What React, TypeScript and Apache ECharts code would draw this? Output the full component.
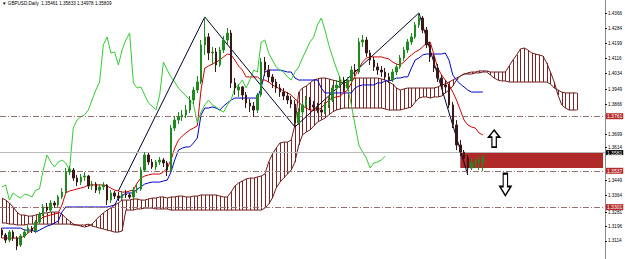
import React, { useEffect, useRef } from "react";
import * as echarts from "echarts";

const titleText = "▼ GBPUSD,Daily  1.35461 1.35833 1.34978 1.35809";
const slotCount = 161;
const categories = Array.from({ length: slotCount }, (_, i) => String(i));
// price-scale labels (text) and where they sit on the scale
const priceTickText = ["1.4366", "1.4284", "1.4199", "1.4116", "1.4034", "1.3949", "1.3866", "1.3699", "1.3614", "1.3449", "1.3364", "1.3281", "1.3196", "1.3114"];
const priceTickPos = [1.4366, 1.4284, 1.4199, 1.4116, 1.4034, 1.3949, 1.3866, 1.3699, 1.3628, 1.3449, 1.3364, 1.3272, 1.3196, 1.3114];

// [open, close, low, high]
const candles = [
[1.3174,1.3147,1.3130,1.3185],[1.3147,1.3119,1.3103,1.3158],[1.3119,1.3163,1.3108,1.3174],[1.3163,1.3130,1.3114,1.3174],[1.3130,1.3086,1.3064,1.3141],
[1.3092,1.3141,1.3081,1.3152],[1.3141,1.3163,1.3130,1.3180],[1.3163,1.3185,1.3152,1.3202],[1.3185,1.3169,1.3158,1.3196],[1.3169,1.3218,1.3158,1.3229],
[1.3218,1.3262,1.3207,1.3273],[1.3262,1.3301,1.3251,1.3317],[1.3301,1.3284,1.3273,1.3323],[1.3284,1.3323,1.3273,1.3339],[1.3323,1.3312,1.3295,1.3334],
[1.3312,1.3356,1.3301,1.3367],[1.3356,1.3383,1.3345,1.3405],[1.3383,1.3493,1.3372,1.3515],[1.3493,1.3510,1.3477,1.3526],[1.3504,1.3460,1.3444,1.3515],
[1.3460,1.3438,1.3416,1.3477],[1.3438,1.3466,1.3422,1.3482],[1.3466,1.3471,1.3444,1.3493],[1.3471,1.3416,1.3400,1.3477],[1.3416,1.3427,1.3394,1.3444],
[1.3427,1.3394,1.3378,1.3438],[1.3394,1.3411,1.3372,1.3427],[1.3411,1.3422,1.3394,1.3438],[1.3422,1.3339,1.3312,1.3427],[1.3339,1.3378,1.3323,1.3394],
[1.3378,1.3361,1.3345,1.3389],[1.3361,1.3350,1.3334,1.3383],[1.3350,1.3372,1.3339,1.3389],[1.3372,1.3367,1.3350,1.3394],[1.3367,1.3356,1.3345,1.3378],
[1.3356,1.3394,1.3345,1.3411],[1.3394,1.3400,1.3378,1.3427],[1.3400,1.3504,1.3389,1.3521],[1.3504,1.3587,1.3493,1.3603],[1.3587,1.3548,1.3532,1.3598],
[1.3548,1.3521,1.3510,1.3565],[1.3521,1.3548,1.3504,1.3559],[1.3548,1.3559,1.3532,1.3576],[1.3559,1.3543,1.3521,1.3570],[1.3543,1.3504,1.3471,1.3554],
[1.3504,1.3735,1.3493,1.3752],[1.3735,1.3779,1.3719,1.3801],[1.3779,1.3796,1.3757,1.3823],[1.3796,1.3807,1.3774,1.3834],[1.3807,1.3834,1.3790,1.3862],
[1.3834,1.3889,1.3818,1.3911],[1.3889,1.3944,1.3867,1.3961],[1.3944,1.3988,1.3928,1.4021],[1.3988,1.4192,1.3977,1.4219],[1.4192,1.4236,1.4137,1.4346],
[1.4236,1.4148,1.4109,1.4257],[1.4148,1.4153,1.4082,1.4181],[1.4153,1.4082,1.4043,1.4175],[1.4082,1.4164,1.4071,1.4181],[1.4164,1.4219,1.4148,1.4241],
[1.4219,1.4257,1.4197,1.4285],[1.4257,1.3983,1.3955,1.4274],[1.3983,1.3955,1.3917,1.4010],[1.3944,1.3961,1.3906,1.3977],[1.3961,1.3917,1.3889,1.3966],
[1.3917,1.3873,1.3845,1.3933],[1.3873,1.3856,1.3823,1.3895],[1.3856,1.3834,1.3796,1.3878],[1.3834,1.3917,1.3818,1.3928],[1.3917,1.4098,1.3906,1.4120],
[1.4098,1.4054,1.4021,1.4126],[1.4054,1.4016,1.3988,1.4082],[1.4016,1.3988,1.3955,1.4032],[1.3988,1.3955,1.3928,1.4005],[1.3955,1.3933,1.3906,1.3977],
[1.3933,1.3911,1.3889,1.3955],[1.3911,1.3889,1.3867,1.3933],[1.3889,1.3867,1.3845,1.3911],[1.3867,1.3763,1.3741,1.3889],[1.3763,1.3823,1.3752,1.3845],
[1.3823,1.3862,1.3801,1.3878],[1.3862,1.3889,1.3845,1.3911],[1.3889,1.3862,1.3834,1.3906],[1.3862,1.3851,1.3829,1.3884],[1.3851,1.3834,1.3818,1.3873],
[1.3834,1.3823,1.3801,1.3856],[1.3823,1.3862,1.3812,1.3878],[1.3862,1.3889,1.3845,1.3911],[1.3889,1.3955,1.3878,1.3972],[1.3955,1.3972,1.3939,1.3999],
[1.3972,1.3999,1.3955,1.4021],[1.3999,1.3955,1.3933,1.4016],[1.3955,1.3999,1.3944,1.4016],[1.3999,1.4054,1.3983,1.4076],[1.4054,1.4043,1.4021,1.4087],
[1.4043,1.4208,1.4032,1.4230],[1.4208,1.4219,1.4181,1.4247],[1.4219,1.4148,1.4126,1.4236],[1.4148,1.4109,1.4082,1.4164],[1.4109,1.4071,1.4049,1.4126],
[1.4071,1.4054,1.4027,1.4093],[1.4054,1.4043,1.4016,1.4076],[1.4043,1.4016,1.3999,1.4065],[1.4016,1.3999,1.3983,1.4038],[1.3999,1.4043,1.3988,1.4060],
[1.4043,1.4071,1.4027,1.4087],[1.4071,1.4120,1.4060,1.4137],[1.4120,1.4164,1.4104,1.4181],[1.4164,1.4208,1.4148,1.4225],[1.4208,1.4236,1.4192,1.4257],
[1.4236,1.4302,1.4225,1.4318],[1.4302,1.4340,1.4285,1.4368],[1.4340,1.4274,1.4257,1.4351],[1.4274,1.4192,1.4175,1.4291],[1.4192,1.4126,1.4098,1.4208],
[1.4126,1.4065,1.4043,1.4137],[1.4065,1.4010,1.3988,1.4087],[1.4010,1.3972,1.3950,1.4027],[1.3972,1.3961,1.3928,1.3999],[1.3961,1.3862,1.3845,1.3977],
[1.3862,1.3752,1.3735,1.3878],[1.3752,1.3642,1.3614,1.3779],[1.3642,1.3603,1.3581,1.3669],[1.3603,1.3570,1.3548,1.3614],[1.3570,1.3515,1.3477,1.3587],
[1.3515,1.3543,1.3504,1.3570],[1.3543,1.3548,1.3515,1.3565],[1.3548,1.3559,1.3504,1.3581],[1.35461,1.35809,1.34978,1.35833]
];

const tenkan = [
1.3130,1.3130,1.3130,1.3130,1.3130,1.3130,1.3141,1.3158,1.3174,1.3202,
1.3229,1.3246,1.3251,1.3257,1.3262,1.3268,1.3312,1.3378,1.3389,1.3394,
1.3400,1.3405,1.3411,1.3422,1.3422,1.3422,1.3422,1.3422,1.3416,1.3405,
1.3394,1.3389,1.3383,1.3383,1.3389,1.3394,1.3433,1.3460,1.3471,1.3477,
1.3482,1.3482,1.3482,1.3493,1.3515,1.3559,1.3625,1.3669,1.3691,1.3708,
1.3724,1.3735,1.3746,1.3944,1.4065,1.4076,1.4087,1.4098,1.4109,1.4126,
1.4142,1.4137,1.4109,1.4076,1.4054,1.4016,1.4016,1.4016,1.4016,1.3999,
1.3999,1.3988,1.3972,1.3961,1.3950,1.3939,1.3928,1.3917,1.3895,1.3878,
1.3856,1.3845,1.3834,1.3834,1.3834,1.3845,1.3867,1.3889,1.3900,1.3906,
1.3911,1.3928,1.3944,1.3983,1.4021,1.4065,1.4098,1.4120,1.4126,1.4126,
1.4126,1.4126,1.4120,1.4115,1.4098,1.4087,1.4082,1.4098,1.4120,1.4137,
1.4153,1.4164,1.4181,1.4203,1.4208,1.4137,1.4065,1.4027,1.3999,1.3972,
1.3933,1.3889,1.3834,1.3779,1.3752,1.3741,1.3735,1.3708,1.3697
];

const kijun = [
1.3185,1.3185,1.3185,1.3185,1.3185,1.3185,1.3174,1.3174,1.3174,1.3163,
1.3174,1.3185,1.3196,1.3202,1.3213,1.3224,1.3273,1.3301,1.3301,1.3301,
1.3301,1.3301,1.3301,1.3301,1.3301,1.3301,1.3301,1.3301,1.3301,1.3306,
1.3312,1.3350,1.3361,1.3378,1.3378,1.3378,1.3400,1.3411,1.3427,1.3433,
1.3438,1.3438,1.3438,1.3444,1.3449,1.3493,1.3559,1.3614,1.3625,1.3631,
1.3631,1.3653,1.3680,1.3807,1.3845,1.3845,1.3851,1.3845,1.3834,1.3856,
1.3873,1.3889,1.3900,1.3900,1.3900,1.3900,1.3900,1.3900,1.3900,1.3955,
1.4043,1.4054,1.4054,1.4054,1.4054,1.4049,1.4043,1.4043,1.4010,1.3999,
1.3999,1.3999,1.3999,1.3999,1.3999,1.3955,1.3928,1.3928,1.3928,1.3928,
1.3928,1.3928,1.3928,1.3928,1.3955,1.3966,1.3972,1.3972,1.3972,1.3972,
1.3983,1.3983,1.3994,1.3994,1.3999,1.4010,1.4010,1.4016,1.4016,1.4065,
1.4109,1.4120,1.4137,1.4142,1.4142,1.4142,1.4142,1.4142,1.4148,1.4109,
1.4027,1.3999,1.3977,1.3961,1.3944,1.3933,1.3933,1.3933,1.3933
];

const spanA = [
1.3350,1.3339,1.3323,1.3301,1.3273,1.3257,1.3257,1.3251,1.3251,1.3257,
1.3262,1.3268,1.3268,1.3273,1.3273,1.3273,1.3262,1.3240,1.3224,1.3207,
1.3202,1.3196,1.3191,1.3196,1.3207,1.3229,1.3251,1.3268,1.3284,1.3295,
1.3312,1.3323,1.3339,1.3339,1.3339,1.3345,1.3345,1.3339,1.3339,1.3345,
1.3350,1.3350,1.3356,1.3356,1.3350,1.3356,1.3356,1.3361,1.3361,1.3356,
1.3356,1.3361,1.3361,1.3367,1.3367,1.3367,1.3367,1.3367,1.3361,1.3356,
1.3356,1.3383,1.3416,1.3433,1.3444,1.3455,1.3460,1.3460,1.3466,1.3471,
1.3482,1.3548,1.3592,1.3625,1.3653,1.3658,1.3658,1.3669,1.3752,1.3933,
1.3955,1.3966,1.3983,1.3999,1.4005,1.4010,1.4010,1.4005,1.3999,1.3994,
1.3988,1.3983,1.3988,1.3999,1.4010,1.4010,1.4010,1.4010,1.4010,1.4010,
1.4010,1.4005,1.3999,1.3988,1.3977,1.3955,1.3944,1.3950,1.3955,1.3955,
1.3955,1.3955,1.3955,1.3955,1.3955,1.3955,1.3961,1.3972,1.3977,1.3988,
1.3999,1.4010,1.4021,1.4032,1.4038,1.4043,1.4043,1.4049,1.4049,1.4049,
1.4043,1.4043,1.4043,1.4043,1.4043,1.4076,1.4109,1.4137,1.4170,1.4175,
1.4164,1.4148,1.4142,1.4137,1.4131,1.4093,1.4043,1.3988,1.3917,1.3862,
1.3845,1.3834,1.3834,1.3834
];

const spanB = [
1.3213,1.3213,1.3207,1.3207,1.3202,1.3202,1.3202,1.3207,1.3207,1.3207,
1.3207,1.3207,1.3207,1.3207,1.3207,1.3207,1.3207,1.3207,1.3207,1.3202,
1.3202,1.3202,1.3202,1.3207,1.3196,1.3191,1.3185,1.3180,1.3174,1.3169,
1.3163,1.3163,1.3169,1.3284,1.3284,1.3284,1.3290,1.3290,1.3295,1.3295,
1.3295,1.3290,1.3290,1.3290,1.3290,1.3284,1.3284,1.3284,1.3284,1.3284,
1.3284,1.3284,1.3284,1.3284,1.3284,1.3284,1.3284,1.3284,1.3284,1.3284,
1.3284,1.3284,1.3284,1.3284,1.3284,1.3284,1.3284,1.3284,1.3284,1.3284,
1.3295,1.3317,1.3350,1.3405,1.3438,1.3460,1.3482,1.3504,1.3548,1.3642,
1.3697,1.3713,1.3724,1.3746,1.3768,1.3779,1.3790,1.3807,1.3823,1.3834,
1.3840,1.3845,1.3845,1.3845,1.3845,1.3845,1.3845,1.3845,1.3845,1.3845,
1.3845,1.3845,1.3840,1.3834,1.3834,1.3834,1.3834,1.3840,1.3845,1.3851,
1.3878,1.3900,1.3906,1.3906,1.3900,1.3906,1.3906,1.3911,1.3928,1.3944,
1.3966,1.3999,1.4021,1.4032,1.4032,1.4032,1.4038,1.4038,1.4043,1.4043,
1.4027,1.4010,1.3999,1.3994,1.3994,1.3988,1.3988,1.3988,1.3988,1.3988,
1.3988,1.3988,1.3988,1.3988,1.3988,1.3988,1.3977,1.3955,1.3944,1.3933,
1.3928,1.3928,1.3928,1.3928
];

const chikouShift = 26;
const zigzag = [[31, 1.3389], [54, 1.4346], [78, 1.3741], [111, 1.4368], [124, 1.3477]];

const levelLines = [1.3761, 1.3537, 1.3301];
const bidPrice = 1.35809;
const zone = { start: 122, end: 160, top: 1.3603, bottom: 1.3515 };
const arrowMarks = [
  { index: 131, value: 1.3677, dir: "up" },
  { index: 134, value: 1.3424, dir: "down" },
];

const UP_ARROW = "path://M5,0 L10,7 L7,7 L7,17 L3,17 L3,7 L0,7 Z";
const DOWN_ARROW = "path://M3,0 L7,0 L7,10 L10,10 L5,17 L0,10 L3,10 Z";

export default function App() {
  const ref = useRef<HTMLDivElement>(null);
  useEffect(() => {
    if (!ref.current) return;
    const chart = echarts.init(ref.current, null, { renderer: "svg" });
    const closes = candles.map((c) => c[1]);
    const chikou = closes.slice(chikouShift);
    const cloudData = spanA.map((a, i) => [i, a, spanB[i]]);
    const fontFamily = "Liberation Sans, DejaVu Sans, sans-serif";

    const tag = (text: string, bg: string, pad: number[]) => ({
      show: true, position: "end", distance: 1, formatter: text,
      color: "#fff", backgroundColor: bg, fontSize: 5, padding: pad, fontFamily,
    });

    const markLineData: any[] = levelLines.map((v) => ({
      yAxis: v,
      lineStyle: { color: "#9a7070", type: [6, 2, 1, 2], width: 1 },
      label: tag(v.toFixed(4), "#b52a2a", [1, 1, 0, 1]),
    }));
    markLineData.push({
      yAxis: bidPrice,
      lineStyle: { color: "#b8b8b8", type: "solid", width: 1 },
      label: tag(bidPrice.toFixed(4), "#000", [0, 1, 0, 1]),
    });

    chart.setOption({
      animation: false,
      backgroundColor: "#fff",
      grid: { left: 0, right: 18, top: 0, bottom: 0 },
      graphic: [
        { type: "text", left: 2, top: 1, style: { text: titleText, fontSize: 4.6, fill: "#000", fontFamily } },
      ],
      xAxis: {
        type: "category", data: categories, boundaryGap: true,
        axisLine: { show: false }, axisTick: { show: false }, axisLabel: { show: false }, splitLine: { show: false },
      },
      yAxis: {
        type: "value", position: "right", min: 1.3015, max: 1.4439, scale: true,
        axisLine: { show: true, lineStyle: { color: "#8a8a8a" } },
        axisTick: { show: true, length: 2, customValues: priceTickPos, lineStyle: { color: "#000" } },
        axisLabel: {
          show: true, customValues: priceTickPos,
          formatter: (v: number) => {
            const k = priceTickPos.findIndex((p) => Math.abs(p - v) < 1e-6);
            return k >= 0 ? priceTickText[k] : "";
          },
          fontSize: 4.6, color: "#000", margin: 3, fontFamily,
        },
        splitLine: { show: false },
      },
      series: [
        {
          type: "custom", name: "cloud", z: 1,
          data: cloudData,
          renderItem: (params: any, api: any) => {
            const i = api.value(0);
            const p1 = api.coord([i, api.value(1)]);
            const p2 = api.coord([i, api.value(2)]);
            const x = Math.round(p1[0]) + 0.5;
            return { type: "line", shape: { x1: x, y1: p1[1], x2: x, y2: p2[1] }, style: { stroke: "#7a2424", lineWidth: 1 } };
          },
          markArea: {
            silent: true,
            itemStyle: { color: "#b02a2a", opacity: 1 },
            data: [[{ xAxis: zone.start, yAxis: zone.top }, { xAxis: zone.end, yAxis: zone.bottom }]],
          },
        },
        { type: "line", name: "spanA", data: spanA, showSymbol: false, z: 2, lineStyle: { color: "#6e1c1c", width: 1 } },
        { type: "line", name: "spanB", data: spanB, showSymbol: false, z: 2, lineStyle: { color: "#6e1c1c", width: 1 } },
        { type: "line", name: "kijun", data: kijun, showSymbol: false, z: 3, lineStyle: { color: "#0000cc", width: 1 } },
        { type: "line", name: "tenkan", data: tenkan, showSymbol: false, z: 3, lineStyle: { color: "#d40000", width: 1 } },
        { type: "line", name: "chikou", data: chikou, showSymbol: false, z: 3, lineStyle: { color: "#33cc33", width: 1 } },
        { type: "line", name: "zigzag", data: zigzag, showSymbol: false, z: 4, lineStyle: { color: "#00002a", width: 1 } },
        {
          type: "candlestick", name: "GBPUSD", data: candles, z: 5, barWidth: 2,
          itemStyle: { color: "#1f8a1f", color0: "#3a1818", borderColor: "#1f8a1f", borderColor0: "#3a1818", borderWidth: 1 },
          markLine: { silent: true, symbol: "none", data: markLineData },
          markPoint: {
            silent: true,
            data: arrowMarks.map((a) => ({
              coord: [a.index, a.value],
              symbol: a.dir === "up" ? UP_ARROW : DOWN_ARROW,
              symbolSize: a.dir === "up" ? [11, 17] : [11, 22],
              itemStyle: { color: "#fff", borderColor: "#000", borderWidth: 1.5 },
              label: { show: false },
            })),
          },
        },
      ],
    });
    return () => chart.dispose();
  }, []);
  return <div ref={ref} style={{ position: "fixed", left: 0, top: 0, width: 625, height: 259 }} />;
}
